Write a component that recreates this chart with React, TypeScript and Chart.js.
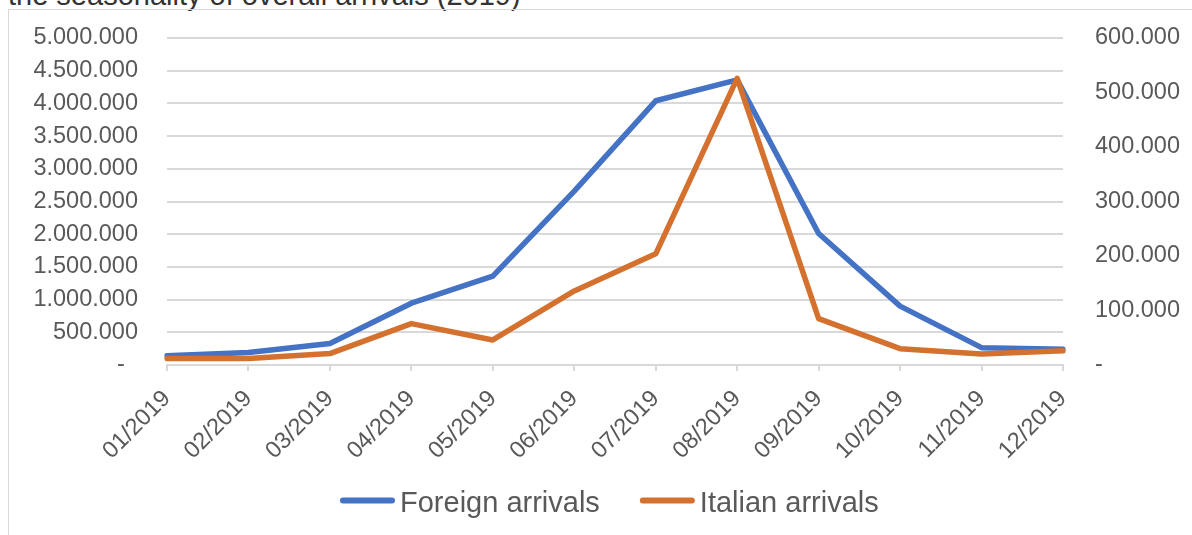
import React, { useEffect, useRef } from "react";
import { Chart, registerables } from "chart.js";

Chart.register(...registerables);

const months = [
  "01/2019", "02/2019", "03/2019", "04/2019", "05/2019", "06/2019",
  "07/2019", "08/2019", "09/2019", "10/2019", "11/2019", "12/2019",
];
const foreignArrivals = [
  140000, 190000, 330000, 945000, 1360000, 2660000,
  4040000, 4360000, 2010000, 900000, 265000, 240000,
];
const italianArrivals = [
  12000, 12000, 21000, 76000, 46000, 136000,
  204000, 526000, 85000, 30000, 20000, 26000,
];
const seriesNames = ["Foreign arrivals", "Italian arrivals"];
const leftAxisMax = 5000000;
const leftAxisStep = 500000;
const rightAxisMax = 600000;
const rightAxisStep = 100000;
const titleText = "the seasonality of overall arrivals (2019)";

const FONT = "'Liberation Sans', Arial, Helvetica, sans-serif";
const BLUE = "#4472C4";
const ORANGE = "#D5712E";
const GRID = "#d9d9d9";
const TEXT = "#595959";

const fmt = (v: number) =>
  v === 0 ? "-  " : String(Math.round(v)).replace(/\B(?=(\d{3})+(?!\d))/g, ".");

const legendPlugin = {
  id: "customLegend",
  afterDraw(chart: any) {
    const ctx = chart.ctx as CanvasRenderingContext2D;
    ctx.save();
    ctx.font = `29px ${FONT}`;
    let x = 331;
    const lineY = 490.5;
    const baseY = 501.5;
    chart.data.datasets.forEach((ds: any) => {
      ctx.strokeStyle = ds.borderColor;
      ctx.lineWidth = 6;
      ctx.lineCap = "round";
      ctx.beginPath();
      ctx.moveTo(x + 3, lineY);
      ctx.lineTo(x + 52, lineY);
      ctx.stroke();
      x += 60;
      ctx.fillStyle = TEXT;
      ctx.textAlign = "left";
      ctx.textBaseline = "alphabetic";
      ctx.fillText(ds.label, x, baseY);
      x += ctx.measureText(ds.label).width + 40;
    });
    ctx.restore();
  },
};

export default function App() {
  const ref = useRef<HTMLCanvasElement | null>(null);

  useEffect(() => {
    if (!ref.current) return;
    const chart = new Chart(ref.current, {
      type: "line",
      data: {
        labels: months,
        datasets: [
          {
            label: seriesNames[0],
            data: foreignArrivals,
            borderColor: BLUE,
            backgroundColor: BLUE,
            borderWidth: 5.5,
            pointRadius: 0,
            tension: 0,
            borderJoinStyle: "round",
            borderCapStyle: "round",
            yAxisID: "y",
            order: 1,
          },
          {
            label: seriesNames[1],
            data: italianArrivals,
            borderColor: ORANGE,
            backgroundColor: ORANGE,
            borderWidth: 5.5,
            pointRadius: 0,
            tension: 0,
            borderJoinStyle: "round",
            borderCapStyle: "round",
            yAxisID: "y1",
            order: 0,
          },
        ],
      },
      options: {
        animation: false,
        responsive: false,
        devicePixelRatio: 1,
        layout: { padding: { top: 28, bottom: 0, left: 0, right: 0 } },
        plugins: {
          legend: { display: false },
          tooltip: { enabled: false },
          title: { display: false },
        },
        scales: {
          x: {
            offset: false,
            grid: {
              drawOnChartArea: false,
              drawTicks: true,
              tickLength: 6,
              color: GRID,
              lineWidth: 2,
            },
            border: { color: GRID, width: 2 },
            ticks: {
              autoSkip: false,
              minRotation: 45,
              maxRotation: 45,
              color: TEXT,
              padding: 14,
              font: { family: FONT, size: 23.5 },
            },
            afterFit: (s: any) => {
              s.height = 170;
            },
          },
          y: {
            position: "left",
            min: 0,
            max: leftAxisMax,
            grid: { color: GRID, lineWidth: 2, drawTicks: false },
            border: { display: false },
            ticks: {
              autoSkip: false,
              stepSize: leftAxisStep,
              color: TEXT,
              padding: 29,
              font: { family: FONT, size: 23.5 },
              callback: (v: any) => fmt(Number(v)),
            },
            afterFit: (s: any) => {
              s.width = 158;
              s.paddingTop = 0;
              s.paddingBottom = 0;
            },
          },
          y1: {
            position: "right",
            min: 0,
            max: rightAxisMax,
            grid: { drawOnChartArea: false, drawTicks: false },
            border: { display: false },
            ticks: {
              autoSkip: false,
              stepSize: rightAxisStep,
              color: TEXT,
              padding: 32,
              font: { family: FONT, size: 23.5 },
              callback: (v: any) => fmt(Number(v)),
            },
            afterFit: (s: any) => {
              s.width = 129;
              s.paddingTop = 0;
              s.paddingBottom = 0;
            },
          },
        },
      },
      plugins: [legendPlugin],
    } as any);
    return () => chart.destroy();
  }, []);

  return (
    <>
      <div
        style={{
          position: "absolute",
          left: 8,
          top: -19.5,
          fontFamily: FONT,
          fontSize: 29,
          lineHeight: "29px",
          color: "#333",
          whiteSpace: "nowrap",
        }}
      >
        {titleText}
      </div>
      <div
        style={{
          position: "absolute",
          left: 8,
          top: 9,
          width: 1184,
          height: 526,
          boxSizing: "border-box",
          borderLeft: `1.5px solid ${GRID}`,
          borderTop: `1.5px solid ${GRID}`,
          overflow: "hidden",
        }}
      >
        <canvas ref={ref} width={1183} height={525} style={{ display: "block" }} />
      </div>
    </>
  );
}
